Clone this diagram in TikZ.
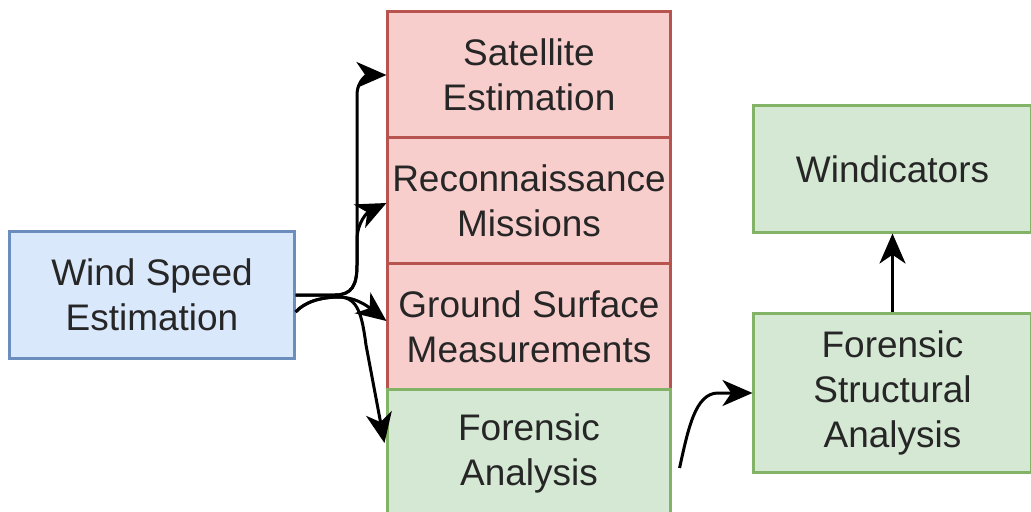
\documentclass[tikz,border=0pt]{standalone}
\usepackage{fontspec}
\setmainfont{Liberation Sans}
\usetikzlibrary{arrows.meta,calc}
\definecolor{bluefill}{HTML}{DAE8FC}
\definecolor{blueline}{HTML}{6C8EBF}
\definecolor{redfill}{HTML}{F8CECC}
\definecolor{redline}{HTML}{B85450}
\definecolor{greenfill}{HTML}{D5E8D4}
\definecolor{greenline}{HTML}{82B366}
\definecolor{txt}{HTML}{262626}
\tikzset{
  box/.style={draw, line width=0.075cm, inner sep=0pt, align=center, text=txt,
    font=\fontsize{26.3pt}{32pt}\selectfont},
  bluebox/.style={box, fill=bluefill, draw=blueline},
  redbox/.style={box, fill=redfill, draw=redline, minimum width=7.05cm, minimum height=3.15cm},
  greenbox/.style={box, fill=greenfill, draw=greenline},
  conn/.style={line width=0.075cm, -{Stealth[length=0.75cm,width=0.65cm,inset=0.22cm]}},
}
\begin{document}
\begin{tikzpicture}[x=0.025cm,y=-0.025cm]
\useasboundingbox (0,0) rectangle (1031,512);
\clip (0,0) rectangle (1031,512);
\fill[white] (0,0) rectangle (1031,512);
\node[bluebox, minimum width=7.1cm, minimum height=3.15cm] (ws) at (152,295) {Wind Speed\\Estimation};
\node[redbox] (sat) at (529,75) {Satellite\\Estimation};
\node[redbox] (rec) at (529,201) {Reconnaissance\\Missions};
\node[redbox] (gsm) at (529,327) {Ground Surface\\Measurements};
\node[greenbox, minimum width=7.05cm, minimum height=3.15cm] (fa) at (529,453) {Forensic\\Analysis};
\node[greenbox, minimum width=6.925cm, minimum height=3.15cm] (win) at (892.5,169) {Windicators};
\node[greenbox, minimum width=6.925cm, minimum height=3.95cm] (fsa) at (892.5,393) {Forensic\\Structural\\Analysis};
\coordinate (s2) at ($(ws.east)+(0,17)$);
% to Satellite
\draw[conn] (ws.east) -- (335,295) .. controls (352,295) and (357,285) .. (357,265)
  -- (357,95) .. controls (357,80) and (368,75) .. (sat.west);
% to Reconnaissance
\draw[conn] (ws.east) -- (335,295) .. controls (352,295) and (357,285) .. (357,265)
  -- (357,240) .. controls (357,222) and (368,212) .. ($(rec.west)+(0,2)$);
% to Ground Surface
\draw[conn] (s2) .. controls (305,302) and (320,297) .. (340,297)
  .. controls (360,298) and (372,310) .. ($(gsm.west)+(0,-6)$);
% to Forensic Analysis
\draw[conn] (s2) .. controls (305,302) and (320,297) .. (340,297)
  .. controls (358,298) and (362,315) .. (366,345) -- ($(fa.west)+(-2,-10)$);
% Forensic Analysis -> Forensic Structural Analysis
\draw[conn] ($(fa.east)+(8,15)$) .. controls (688,430) and (695,393) .. (718,393) -- (fsa.west);
% FSA -> Windicators
\draw[conn] (fsa.north) -- (win.south);
\end{tikzpicture}
\end{document}
